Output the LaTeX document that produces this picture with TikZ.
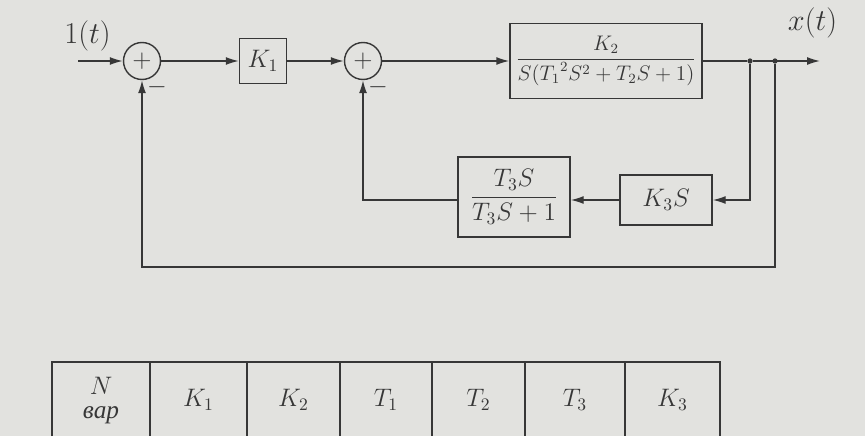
\documentclass[tikz,border=0pt]{standalone}
\usepackage{amsmath}
\usepackage{fontspec}
\newfontfamily\cyr{Liberation Serif}
\usetikzlibrary{arrows.meta}
\definecolor{paper}{RGB}{226,226,223}
\definecolor{ink}{RGB}{55,55,55}
\tikzset{
  blk/.style={draw=ink, thick, inner sep=2pt},
  sumnode/.style={draw=ink, thick, circle, minimum size=0.74cm, inner sep=0pt, font=\Large},
  sig/.style={ink, thick, -{Latex[length=2.6mm,width=1.6mm]}},
  wire/.style={ink, thick},
  tdot/.style={circle, fill=ink, inner sep=0pt, minimum size=3pt},
  cell/.style={font=\Large},
}
\begin{document}
\begin{tikzpicture}[font=\large, text=ink]
\fill[paper] (0,0) rectangle (17.3,-8.72);
\useasboundingbox (0,0) rectangle (17.3,-8.72);
% forward path
\coordinate (in) at (1.56,-1.22);
\node[sumnode] (s1) at (2.84,-1.22) {$+$};
\node[blk, minimum width=0.94cm, minimum height=0.9cm, font=\Large] (k1) at (5.26,-1.22) {$K_1$};
\node[sumnode] (s2) at (7.26,-1.22) {$+$};
\node[blk, minimum width=3.84cm, minimum height=1.5cm] (g) at (12.12,-1.22)
  {$\dfrac{K_2}{S({T_1}^{2}S^2+T_2S+1)}$};
\node[tdot] (d1) at (15.0,-1.22) {};
\node[tdot] (d2) at (15.5,-1.22) {};
\coordinate (out) at (16.4,-1.22);
\node[font=\LARGE] at (1.75,-0.72) {$1(t)$};
\node[font=\LARGE] at (16.25,-0.45) {$x(t)$};
\node[font=\Large] at ([shift={(0.3,-0.52)}]s1.center) {$-$};
\node[font=\Large] at ([shift={(0.3,-0.52)}]s2.center) {$-$};
\draw[sig] (in) -- (s1);
\draw[sig] (s1) -- (k1);
\draw[sig] (k1) -- (s2);
\draw[sig] (s2) -- (g);
\draw[wire] (g) -- (d1);
\draw[sig] (d1) -- (out);
% inner feedback
\node[blk, minimum width=1.84cm, minimum height=1.0cm, font=\Large] (k3) at (13.32,-4.0) {$K_3S$};
\node[blk, minimum width=2.24cm, minimum height=1.6cm, font=\Large] (t3) at (10.28,-3.94)
  {$\dfrac{T_3S}{T_3S+1}$};
\draw[sig] (d1) |- (k3);
\draw[sig] (k3) -- (k3 -| t3.east);
\draw[sig] (t3.west |- k3) -| (s2);
% outer feedback
\coordinate (low) at (15.5,-5.34);
\draw[sig] (d2) -- (low) -| (s1);
% table
\draw[wire] (1.04,-8.72) -- (1.04,-7.24) -- (14.4,-7.24) -- (14.4,-8.72);
\foreach \x in {3.0,4.94,6.8,8.64,10.5,12.5}
  \draw[wire] (\x,-7.24) -- (\x,-8.72);
\node[cell] (c0) at (2.02,-8.0) {\begin{tabular}{@{}c@{}}$N$\\[-4pt]{\cyr\itshape вар}\end{tabular}};
\node[cell] (c1) at (3.97,-8.0) {$K_1$};
\node[cell] (c2) at (5.87,-8.0) {$K_2$};
\node[cell] (c3) at (7.72,-8.0) {$T_1$};
\node[cell] (c4) at (9.57,-8.0) {$T_2$};
\node[cell] (c5) at (11.5,-8.0) {$T_3$};
\node[cell] (c6) at (13.45,-8.0) {$K_3$};
\end{tikzpicture}
\end{document}
